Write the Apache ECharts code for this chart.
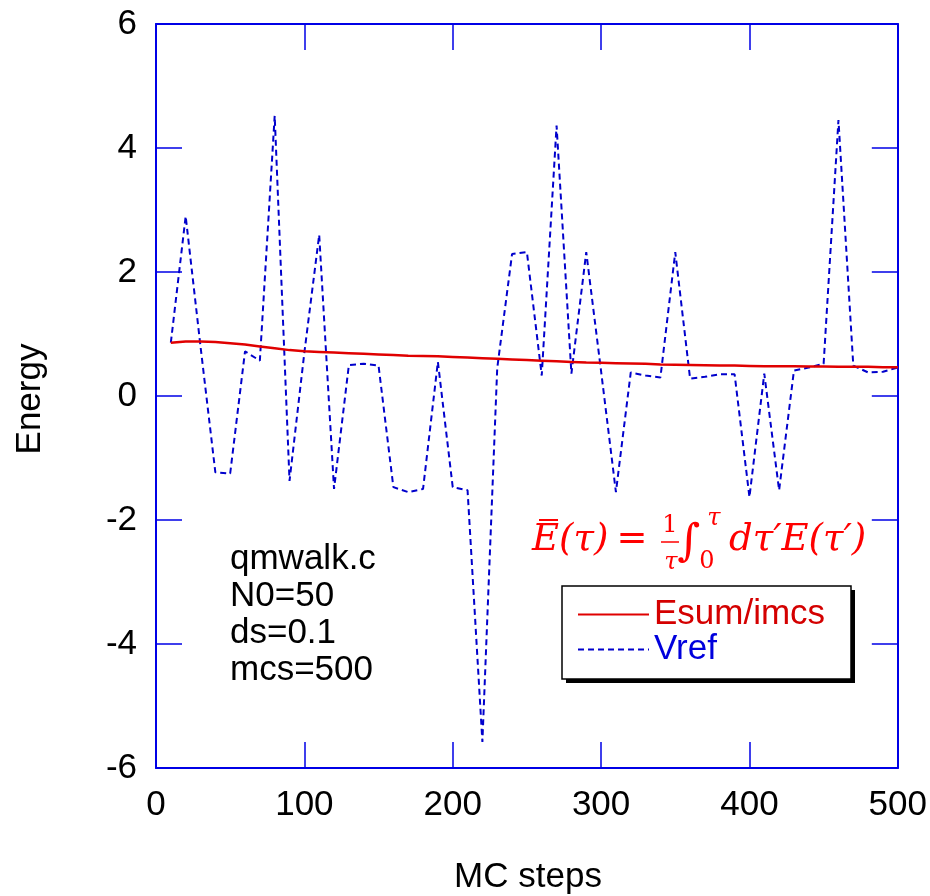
<!DOCTYPE html>
<html>
<head>
<meta charset="utf-8">
<script src="https://cdn.jsdelivr.net/npm/echarts@6/dist/echarts.min.js"></script>
<style>html,body{margin:0;padding:0;background:#fff;}#c{width:930px;height:896px;}</style>
</head>
<body>
<div id="c"></div>
<script>
// ---- data ----
const steps = [10,20,30,40,50,60,70,80,90,100,110,120,130,140,150,160,170,180,190,200,
               210,220,230,240,250,260,270,280,290,300,310,320,330,340,350,360,370,380,390,400,
               410,420,430,440,450,460,470,480,490,500];
const esumImcs = [0.86,0.88,0.88,0.87,0.85,0.83,0.80,0.77,0.74,0.72,0.71,0.70,0.69,0.68,0.67,0.66,0.65,0.645,0.64,0.63,
                  0.62,0.61,0.60,0.59,0.58,0.57,0.56,0.55,0.54,0.535,0.53,0.525,0.52,0.51,0.505,0.50,0.495,0.49,0.49,0.485,
                  0.48,0.48,0.48,0.475,0.475,0.47,0.47,0.47,0.465,0.465];
const vref = [0.86,2.9,0.8,-1.23,-1.25,0.72,0.57,4.52,-1.37,0.7,2.6,-1.5,0.5,0.52,0.49,-1.47,-1.55,-1.5,0.55,-1.47,
              -1.52,-5.58,0.45,2.29,2.32,0.33,4.36,0.36,2.32,0.4,-1.55,0.38,0.33,0.30,2.32,0.28,0.31,0.35,0.35,-1.63,
              0.36,-1.52,0.41,0.46,0.52,4.45,0.49,0.38,0.39,0.46];
const xTicks = [0,100,200,300,400,500];
const yTicks = [-6,-4,-2,0,2,4,6];
const seriesNames = ['Esum/imcs','Vref'];
const infoLines = ['qmwalk.c','N0=50','ds=0.1','mcs=500'];
const xTitle = 'MC steps';
const yTitle = 'Energy';

// ---- styling ----
const FRAME = '#0000e6';
const RED = '#e00000';
const BLUE = '#0000cc';
const FONT = '"Liberation Sans", Arial, Helvetica, sans-serif';
const FS = 35;

const pair = (xs, ys) => xs.map((x, i) => [x, ys[i]]);

const axisCommon = {
  type: 'value',
  axisLine: { show: true, onZero: false, lineStyle: { color: FRAME, width: 2 } },
  axisTick: { show: true, inside: true, length: 26, lineStyle: { color: FRAME, width: 1.5 } },
  splitLine: { show: false },
  minorTick: { show: false }
};

const chart = echarts.init(document.getElementById('c'), null, { renderer: 'canvas' });
const mathFont = (sz, it) => (it ? 'italic ' : '') + sz + 'px "DejaVu Serif", serif';

chart.setOption({
  backgroundColor: '#fff',
  animation: false,
  grid: { left: 156, right: 30, top: 24, bottom: 128, containLabel: false },
  xAxis: [
    Object.assign({}, axisCommon, {
      position: 'bottom', min: xTicks[0], max: xTicks[xTicks.length - 1], interval: xTicks[1] - xTicks[0],
      axisLabel: { show: true, margin: 20, color: '#000', fontSize: FS, fontFamily: FONT }
    }),
    Object.assign({}, axisCommon, {
      position: 'top', min: xTicks[0], max: xTicks[xTicks.length - 1], interval: xTicks[1] - xTicks[0],
      axisLabel: { show: false }
    })
  ],
  yAxis: [
    Object.assign({}, axisCommon, {
      position: 'left', min: yTicks[0], max: yTicks[yTicks.length - 1], interval: yTicks[1] - yTicks[0],
      axisLabel: { show: true, margin: 19, color: '#000', fontSize: FS, fontFamily: FONT }
    }),
    Object.assign({}, axisCommon, {
      position: 'right', min: yTicks[0], max: yTicks[yTicks.length - 1], interval: yTicks[1] - yTicks[0],
      axisLabel: { show: false }
    })
  ],
  legend: {
    show: true,
    orient: 'vertical',
    left: 562, top: 586,
    padding: [11, 20, 16, 15],
    itemWidth: 71, itemHeight: 14, itemGap: 0,
    selectedMode: false,
    z: 20,
    itemStyle: { opacity: 0 },
    textStyle: { fontSize: FS, fontFamily: FONT, padding: [0, 0, 0, 0] },
    data: [
      { name: seriesNames[0], textStyle: { color: '#d40000' } },
      { name: seriesNames[1], textStyle: { color: '#0000dd' } }
    ]
  },
  series: [
    {
      name: seriesNames[0], type: 'line', xAxisIndex: 0, yAxisIndex: 0,
      data: pair(steps, esumImcs), symbol: 'none', smooth: false, z: 3,
      lineStyle: { color: RED, width: 2.5, type: 'solid' }, itemStyle: { color: RED }
    },
    {
      name: seriesNames[1], type: 'line', xAxisIndex: 0, yAxisIndex: 0,
      data: pair(steps, vref), symbol: 'none', smooth: false, z: 2,
      lineStyle: { color: BLUE, width: 2, type: [6, 4] }, itemStyle: { color: BLUE }
    }
  ],
  graphic: [
    // axis titles
    { type: 'text', x: 30, y: 399, rotation: Math.PI / 2, z: 5,
      style: { text: yTitle, font: FS + 'px ' + FONT, fill: '#000', align: 'center', verticalAlign: 'middle' } },
    { type: 'text', x: 528, y: 877, z: 5,
      style: { text: xTitle, font: FS + 'px ' + FONT, fill: '#000', align: 'center', verticalAlign: 'middle' } },
    // info text
    ...infoLines.map((t, i) => ({ type: 'text', x: 230, y: 559 + i * 37, z: 5,
      style: { text: t, font: FS + 'px ' + FONT, fill: '#000', align: 'left', verticalAlign: 'middle' } })),
    // legend box with hard shadow
    { type: 'rect', z: 8, shape: { x: 566, y: 590, width: 289, height: 93 }, style: { fill: '#000' } },
    { type: 'rect', z: 9, shape: { x: 562, y: 586, width: 289, height: 93 }, style: { fill: '#fff', stroke: '#000', lineWidth: 1.5 } },
    // formula  E-bar(tau) = 1/tau int_0^tau dtau' E(tau')
    { type: 'text', x: 532, y: 540, z: 6, style: { text: 'E', font: mathFont(37, true), fill: '#ff0000', align: 'left', verticalAlign: 'middle' } },
    { type: 'line', z: 6, shape: { x1: 539, y1: 520, x2: 558, y2: 520 }, style: { stroke: '#ff0000', lineWidth: 2 } },
    { type: 'text', x: 559, y: 540, z: 6, style: { text: '(τ)', font: mathFont(37, true), fill: '#ff0000', align: 'left', verticalAlign: 'middle' } },
    { type: 'text', x: 632, y: 540, z: 6, style: { text: '=', font: mathFont(37, false), fill: '#ff0000', align: 'center', verticalAlign: 'middle' } },
    { type: 'text', x: 670, y: 526, z: 6, style: { text: '1', font: mathFont(24, false), fill: '#ff0000', align: 'center', verticalAlign: 'middle' } },
    { type: 'line', z: 6, shape: { x1: 661, y1: 542, x2: 679, y2: 542 }, style: { stroke: '#ff0000', lineWidth: 1.5 } },
    { type: 'text', x: 671, y: 563, z: 6, style: { text: 'τ', font: mathFont(24, true), fill: '#ff0000', align: 'center', verticalAlign: 'middle' } },
    { type: 'text', x: 689, y: 544, z: 6, style: { text: '∫', font: mathFont(44, true), fill: '#ff0000', align: 'center', verticalAlign: 'middle' } },
    { type: 'text', x: 714, y: 519, z: 6, style: { text: 'τ', font: mathFont(24, true), fill: '#ff0000', align: 'center', verticalAlign: 'middle' } },
    { type: 'text', x: 707, y: 562, z: 6, style: { text: '0', font: mathFont(24, false), fill: '#ff0000', align: 'center', verticalAlign: 'middle' } },
    { type: 'text', x: 729, y: 540, z: 6, style: { text: 'dτ′E(τ′)', font: mathFont(37, true), fill: '#ff0000', align: 'left', verticalAlign: 'middle' } }
  ]
});
</script>
</body>
</html>
